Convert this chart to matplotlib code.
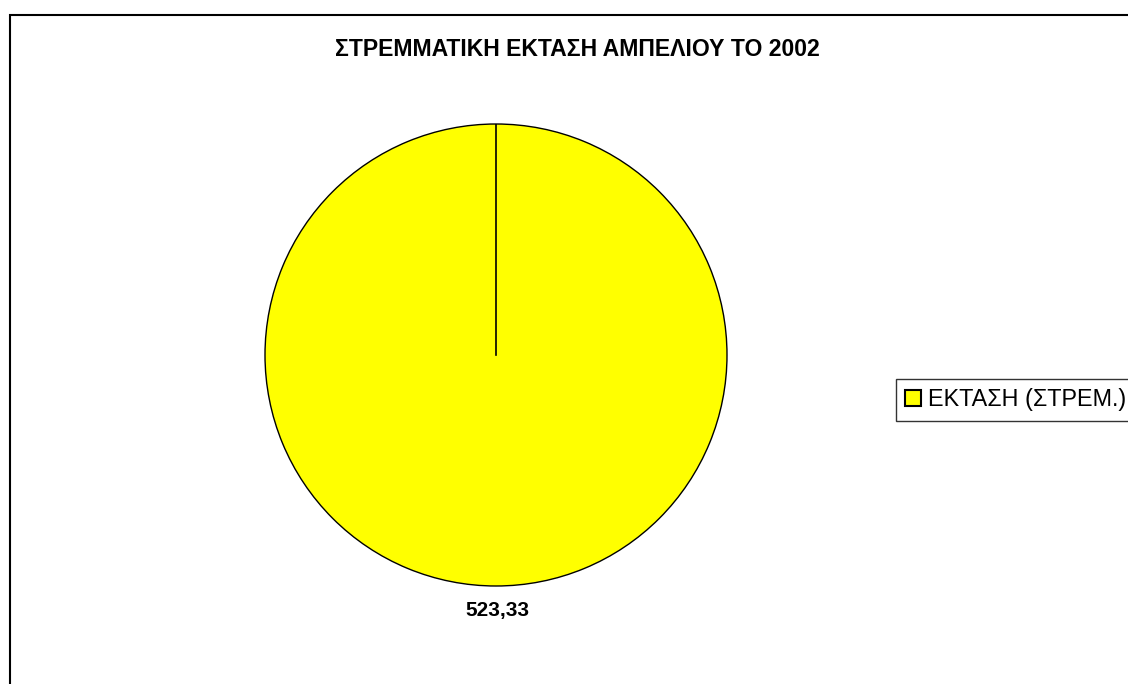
import numpy as np
import matplotlib.pyplot as plt
import matplotlib.patches as mpatches

plt.rcParams["font.family"] = ["Liberation Sans", "DejaVu Sans"]

# Vineyard area for 2002
categories = ["ΕΚΤΑΣΗ (ΣΤΡΕΜ.)"]
values = [523.33]
title = "ΣΤΡΕΜΜΑΤΙΚΗ ΕΚΤΑΣΗ ΑΜΠΕΛΙΟΥ ΤΟ 2002"

W, H = 1128, 684
fig = plt.figure(figsize=(W / 100, H / 100), dpi=100)

# chart area border, running off the right and bottom edges
fig.patches.append(mpatches.Rectangle(
    (10 / W, -0.1), 2, (H - 15) / H + 0.1,
    transform=fig.transFigure, fill=False, edgecolor="black", linewidth=1.5))

fig.text(577 / W, 1 - 49 / H, title, ha="center", va="center",
         fontsize=16.6, fontweight="bold")

# pie axes: centre (496, 355) px, radius 231 px
cx, cy, r = 496, 355, 231
start = 90
ax = fig.add_axes([(cx - r) / W, (H - cy - r) / H, 2 * r / W, 2 * r / H])
wedges, _ = ax.pie(values, colors=["#ffff00"], startangle=start, counterclock=False,
                   radius=1, wedgeprops=dict(edgecolor="black", linewidth=1))
# a full-circle wedge has no radial edge, so draw the slice boundary
ax.plot([0, np.cos(np.radians(start))], [0, np.sin(np.radians(start))],
        color="black", linewidth=1.2)
ax.set_xlim(-1, 1)
ax.set_ylim(-1, 1)
ax.set_aspect("equal")
ax.axis("off")

for v in values:
    ax.text(0.005, -1.105, f"{v:.2f}".replace(".", ","), ha="center", va="center",
            fontsize=15, fontweight="bold")

handles = [mpatches.Patch(facecolor="#ffff00", edgecolor="black", linewidth=1.5)]
leg = fig.legend(handles, categories, loc="upper left",
                 bbox_to_anchor=(896 / W, 1 - 379 / H), fontsize=16.8,
                 frameon=True, fancybox=False, handlelength=0.65, handleheight=0.65,
                 handletextpad=0.3, borderpad=0.4, borderaxespad=0)
leg.get_frame().set_edgecolor("black")
leg.get_frame().set_linewidth(1)

fig.savefig("out.png", dpi=100)
